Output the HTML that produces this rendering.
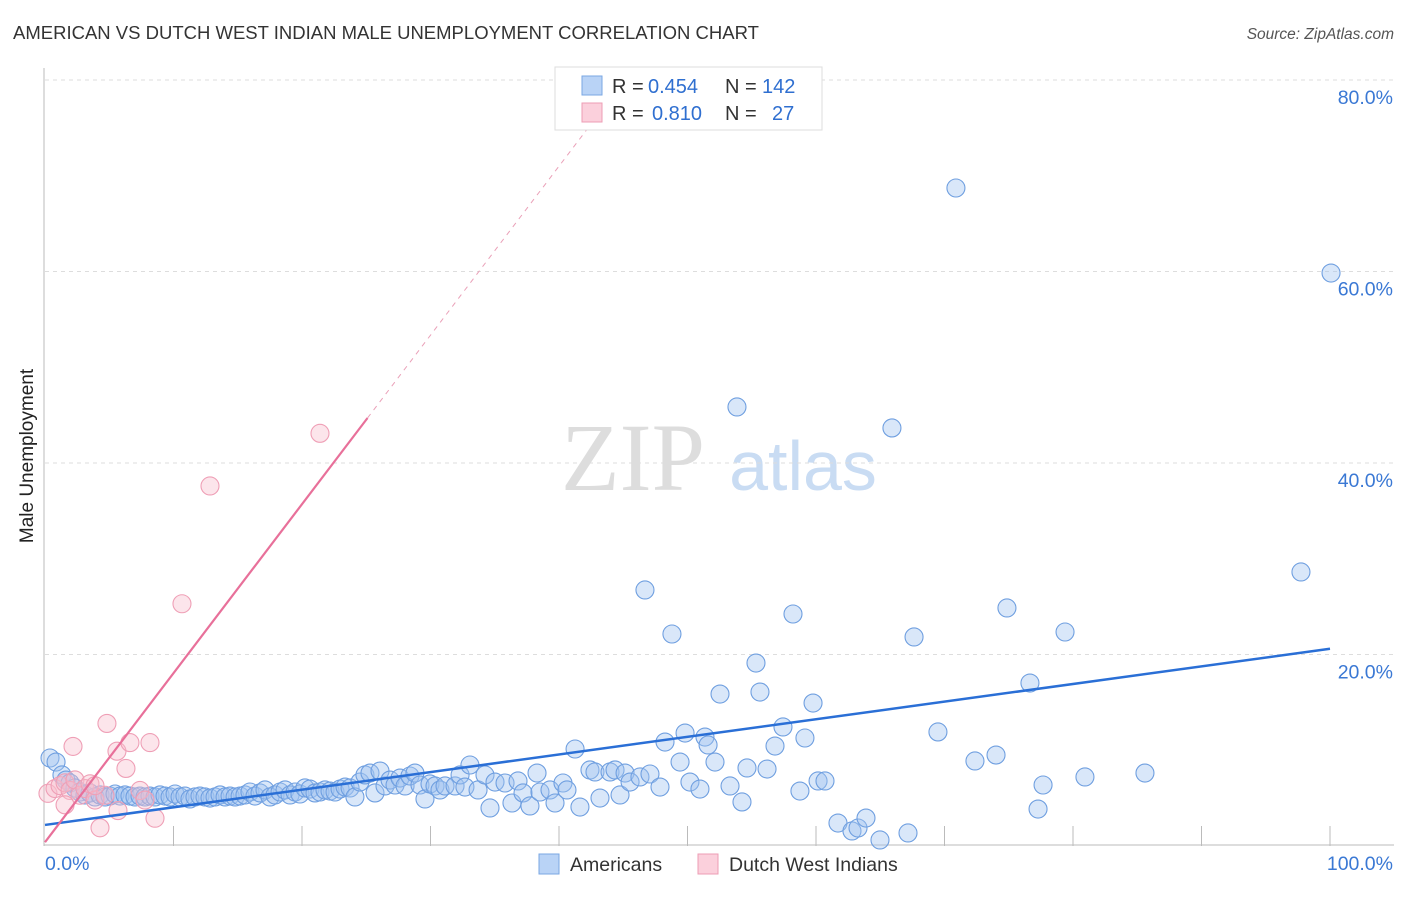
<!DOCTYPE html>
<html><head><meta charset="utf-8"><style>
body{margin:0;background:#fff;font-family:"Liberation Sans",sans-serif}
</style></head><body>
<svg id="chart" width="1406" height="892" xmlns="http://www.w3.org/2000/svg">
<text x="13" y="39" font-size="18.5" fill="#333">AMERICAN VS DUTCH WEST INDIAN MALE UNEMPLOYMENT CORRELATION CHART</text>
<text x="1394" y="39" font-size="15.5" fill="#555" font-style="italic" text-anchor="end">Source: ZipAtlas.com</text>
<text transform="translate(33,456) rotate(-90)" font-size="19" fill="#222" text-anchor="middle">Male Unemployment</text>
<g>
<text x="633" y="490" font-size="96" font-family="Liberation Serif,serif" fill="#ddd" text-anchor="middle">ZIP</text>
<text x="803" y="490" font-size="70" fill="#c9dcf3" text-anchor="middle">atlas</text>
</g>
<g id="grid"></g><g id="axes"></g><g id="pts"></g><g id="lines"></g>
<g>
<rect x="555" y="67" width="267" height="63" fill="#fff" stroke="#ddd"/>
<rect x="582" y="76" width="20" height="19" fill="#b9d3f6" stroke="#7aa7e3"/>
<text x="612" y="93" font-size="20" fill="#333">R =</text>
<text x="648" y="93" font-size="20" fill="#2f6fd0">0.454</text>
<text x="725" y="93" font-size="20" fill="#333">N =</text>
<text x="762" y="93" font-size="20" fill="#2f6fd0">142</text>
<rect x="582" y="103" width="20" height="19" fill="#fbd0dc" stroke="#ee9db4"/>
<text x="612" y="120" font-size="20" fill="#333">R =</text>
<text x="652" y="120" font-size="20" fill="#2f6fd0">0.810</text>
<text x="725" y="120" font-size="20" fill="#333">N =</text>
<text x="772" y="120" font-size="20" fill="#2f6fd0">27</text>
</g>
<g>
<rect x="539" y="854" width="20" height="20" fill="#b9d3f6" stroke="#7aa7e3"/>
<text x="570" y="871" font-size="19.5" fill="#333">Americans</text>
<rect x="698" y="854" width="20" height="20" fill="#fbd0dc" stroke="#ee9db4"/>
<text x="729" y="871" font-size="19.5" fill="#333">Dutch West Indians</text>
</g>
</svg>
<script>
const yTicks=[20,40,60,80];
const yTickLabels=["20.0%","40.0%","60.0%","80.0%"];
const xEndLabels=["0.0%","100.0%"];
const blueX=[0.39,0.86,1.32,1.63,1.95,2.33,2.72,3.11,3.5,3.89,4.28,4.67,5.06,5.45,5.84,6.23,6.61,7.0,7.39,7.78,8.17,8.56,8.95,9.34,9.73,10.12,10.51,10.89,11.28,11.67,12.06,12.45,12.84,13.23,13.62,14.01,14.4,14.79,15.18,15.56,15.95,16.34,16.73,17.12,17.51,17.9,18.29,18.68,19.07,19.46,19.84,20.23,20.62,21.01,21.4,21.79,22.18,22.57,22.96,23.35,23.74,24.12,24.51,24.9,25.29,25.68,26.07,26.46,26.85,27.24,27.63,28.02,28.4,28.79,29.18,29.57,29.96,30.35,30.74,31.13,
31.91,32.3,32.68,33.07,33.7,34.24,34.63,35.02,35.8,36.34,
36.81,37.2,37.74,38.29,38.52,39.3,39.69,40.31,40.62,41.25,
41.63,42.41,42.8,43.19,43.97,44.36,44.75,45.14,45.53,46.3,
46.69,47.08,47.86,48.25,48.79,49.42,49.81,50.19,50.97,51.36,
51.6,52.14,52.53,53.31,53.85,54.24,54.63,55.33,55.64,56.19,
56.81,57.43,58.21,58.75,59.14,59.77,60.16,60.7,61.71,62.8,
63.27,63.89,64.98,65.91,67.16,67.63,69.49,70.89,72.37,74.01,
74.86,76.65,77.28,77.67,79.38,80.93,85.6,97.74,100.08];
const blueY=[9.19,8.77,7.42,6.89,6.58,6.06,5.64,5.33,5.54,5.12,5.33,5.12,5.22,5.43,5.22,5.33,5.22,5.12,5.22,5.12,5.22,5.12,5.33,5.22,5.12,5.43,5.12,5.22,4.91,5.12,5.22,5.12,5.01,5.12,5.33,5.12,5.22,5.12,5.22,5.33,5.64,5.22,5.54,5.85,5.12,5.33,5.64,5.85,5.33,5.64,5.43,6.06,5.95,5.54,5.64,5.85,5.74,5.64,5.95,6.16,6.06,5.12,6.68,7.42,7.62,5.54,7.83,6.27,6.89,6.37,7.1,6.27,7.31,7.62,6.37,4.91,6.48,6.27,5.85,6.27,
6.27,7.42,6.16,8.46,5.85,7.42,3.97,6.68,6.58,4.49,
6.79,5.54,4.18,7.62,5.64,5.85,4.49,6.58,5.85,10.13,
4.07,7.94,7.73,5.01,7.73,7.94,5.33,7.62,6.68,7.21,
26.74,7.52,6.16,10.86,22.14,8.77,11.8,6.68,5.95,11.38,
10.55,8.77,15.87,6.27,45.85,4.6,8.15,19.11,16.08,8.04,
10.44,12.43,24.23,5.74,11.28,14.93,6.79,6.79,2.4,1.57,
1.88,2.92,0.63,43.66,1.36,21.83,11.91,68.72,8.88,9.5,
24.86,17.02,3.86,6.37,22.35,7.21,7.62,28.62,59.84];
const pinkX=[0.23,0.78,1.17,1.56,1.95,2.33,2.72,3.11,3.5,3.89,4.28,4.67,5.68,4.82,5.6,6.61,6.3,7.39,8.17,8.56,10.66,12.84,21.4,2.18,1.56,3.89,7.78];
const pinkY=[5.5,6,6.3,6.6,5.8,6.9,5.3,6,6.5,4.8,1.9,5.3,3.7,12.8,9.9,10.8,8.1,5.8,10.8,2.9,25.3,37.6,43.1,10.4,4.3,6.3,4.8];
const blueFit=[2.2,20.6];
const pinkFit=[0.4,1.765];
const X0=45,X1=1330,Y0=846,YS=9.575;
const sx=v=>X0+(X1-X0)*v/100, sy=v=>Y0-v*YS;
const NS="http://www.w3.org/2000/svg";
function mk(p,t,a){const e=document.createElementNS(NS,t);for(const k in a)e.setAttribute(k,a[k]);document.getElementById(p).appendChild(e);return e;}
yTicks.forEach((t,i)=>{
 const g=mk('grid','line',{x1:X0,x2:1394,y1:sy(t),y2:sy(t),stroke:'#ddd','stroke-dasharray':'4,4'});
 
 
 const l=mk('grid','text',{x:1393,y:sy(t)+24,'font-size':19.5,fill:'#3a78d4','text-anchor':'end'});
 l.textContent=yTickLabels[i];
 
 
});
mk('axes','line',{x1:X0-1,x2:X0-1,y1:68,y2:Y0,stroke:'#bbb'});
mk('axes','line',{x1:X0-1,x2:1394,y1:Y0-1,y2:Y0-1,stroke:'#bbb'});
for(let i=1;i<=10;i++){const t=mk('axes','line',{x1:sx(i*10),x2:sx(i*10),y1:826,y2:Y0,stroke:'#bbb'});
 
 }
const xl0=mk('axes','text',{x:45,y:870,'font-size':19.5,fill:'#3a78d4'});xl0.textContent=xEndLabels[0];


const xl1=mk('axes','text',{x:1393,y:870,'font-size':19.5,fill:'#3a78d4','text-anchor':'end'});xl1.textContent=xEndLabels[1];


blueX.forEach((x,i)=>{const c=mk('pts','circle',{cx:sx(x),cy:sy(blueY[i]),r:9,fill:'rgba(160,196,240,0.4)',stroke:'#6f9fe0','stroke-width':1.1});
 
 });
pinkX.forEach((x,i)=>{const c=mk('pts','circle',{cx:sx(x),cy:sy(pinkY[i]),r:9,fill:'rgba(248,190,206,0.4)',stroke:'#ef9fb6','stroke-width':1.1});
 
 });
const bl=mk('lines','line',{x1:sx(0),y1:sy(blueFit[0]),x2:sx(100),y2:sy(blueFit[1]),stroke:'#2a6fd6','stroke-width':2.5});


const pe=25.1, pd=(80-pinkFit[0])/pinkFit[1];
const pl=mk('lines','line',{x1:sx(0),y1:sy(pinkFit[0]),x2:sx(pe),y2:sy(pinkFit[0]+pinkFit[1]*pe),stroke:'#e8709a','stroke-width':2.2});


const pdl=mk('lines','line',{x1:sx(pe),y1:sy(pinkFit[0]+pinkFit[1]*pe),x2:sx(pd),y2:sy(80),stroke:'#eaa0b8','stroke-width':1,'stroke-dasharray':'5,5'});


</script>
</body></html>
